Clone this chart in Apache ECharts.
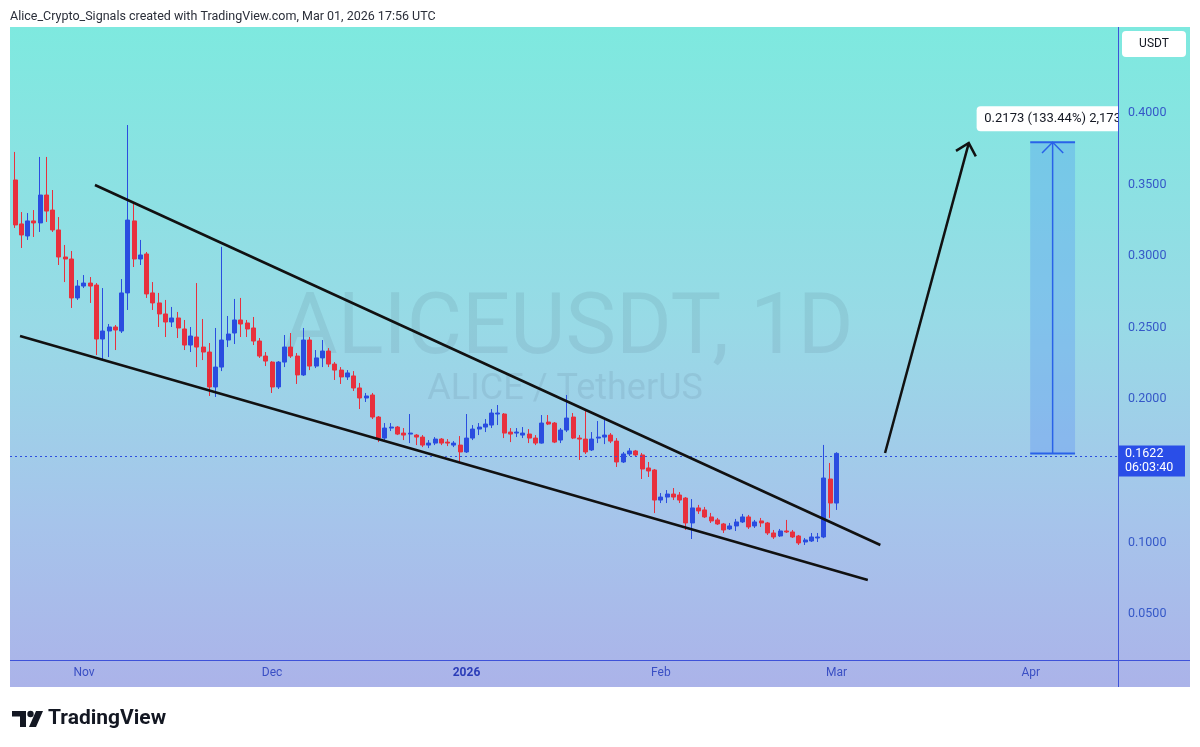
<!DOCTYPE html>
<html><head><meta charset="utf-8">
<script src="https://cdn.jsdelivr.net/npm/echarts@6/dist/echarts.min.js"></script>
<style>html,body{margin:0;padding:0;background:#fff}#c{width:1200px;height:747px}</style>
</head><body><div id="c"></div>
<script>
// day offset of the first candle relative to 2025-11-01 (daily candles, consecutive)
const firstDay = -11;
const open = [.3532,.3225,.3141,.3246,.3232,.3427,.3322,.3183,.2994,.2980,.2708,.2791,.2812,.2798,.2421,.2477,.2505,.2477,.2743,.3246,.2980,.3015,.2743,.2673,.2596,.2540,.2568,.2491,.2379,.2435,.2365,.2330,.2086,.2225,.2414,.2463,.2554,.2533,.2498,.2407,.2302,.2260,.2086,.2260,.2365,.2302,.2170,.2414,.2232,.2289,.2337,.2246,.2204,.2156,.2163,.2079,.2009,.2030,.1876,.1729,.1799,.1806,.1764,.1757,.1750,.1736,.1680,.1694,.1722,.1701,.1680,.1680,.1632,.1729,.1792,.1806,.1820,.1897,.1897,.1771,.1764,.1750,.1757,.1729,.1694,.1841,.1834,.1715,.1785,.1876,.1729,.1722,.1646,.1729,.1736,.1750,.1708,.1562,.1618,.1639,.1611,.1520,.1506,.1296,.1317,.1338,.1331,.1310,.1136,.1241,.1227,.1178,.1157,.1129,.1094,.1115,.1143,.1178,.1115,.1150,.1136,.1066,.1045,.1080,.1073,.1045,.1003,.1010,.1031,.1038,.1443,.1275];
const close = [.3218,.3148,.3246,.3232,.3427,.3315,.3183,.2994,.2980,.2708,.2791,.2812,.2791,.2421,.2477,.2505,.2484,.2743,.3252,.2980,.3008,.2736,.2673,.2596,.2540,.2568,.2498,.2379,.2442,.2365,.2330,.2086,.2225,.2414,.2456,.2554,.2526,.2491,.2407,.2302,.2267,.2086,.2260,.2365,.2302,.2170,.2414,.2232,.2289,.2337,.2246,.2204,.2156,.2184,.2079,.2009,.2023,.1876,.1729,.1799,.1806,.1757,.1750,.1764,.1736,.1680,.1694,.1722,.1694,.1694,.1694,.1632,.1729,.1792,.1806,.1827,.1904,.1904,.1764,.1757,.1771,.1764,.1729,.1694,.1834,.1827,.1701,.1785,.1869,.1729,.1722,.1632,.1722,.1736,.1750,.1708,.1562,.1618,.1639,.1611,.1513,.1499,.1296,.1317,.1338,.1317,.1296,.1136,.1241,.1220,.1178,.1150,.1129,.1087,.1115,.1143,.1178,.1108,.1143,.1136,.1066,.1038,.1080,.1073,.1038,.0996,.1017,.1038,.1038,.1450,.1275,.1622];
const low = [.3197,.3057,.3113,.3134,.3169,.3239,.3169,.2938,.2819,.2638,.2694,.2777,.2673,.2309,.2281,.2295,.2344,.2463,.2624,.2924,.2938,.2708,.2624,.2505,.2435,.2505,.2428,.2344,.2330,.2225,.2274,.2023,.2016,.2197,.2365,.2386,.2435,.2435,.2379,.2289,.2232,.2044,.2072,.2225,.2289,.2107,.2163,.2204,.2218,.2225,.2225,.2135,.2107,.2135,.2058,.1932,.1981,.1862,.1701,.1715,.1778,.1750,.1715,.1694,.1680,.1666,.1659,.1680,.1680,.1673,.1666,.1555,.1625,.1715,.1750,.1771,.1799,.1820,.1729,.1701,.1736,.1729,.1694,.1680,.1690,.1820,.1694,.1694,.1771,.1722,.1576,.1618,.1639,.1694,.1687,.1694,.1527,.1555,.1604,.1597,.1443,.1457,.1205,.1275,.1275,.1296,.1275,.1087,.1024,.1199,.1171,.1136,.1122,.1066,.1087,.1080,.1136,.1094,.1101,.1108,.1052,.1024,.1038,.1066,.1031,.0982,.0982,.1003,.1003,.1030,.1171,.1227];
const high = [.3728,.3308,.3301,.3322,.3693,.3693,.3462,.3273,.3078,.3036,.2833,.2868,.2854,.2812,.2777,.2526,.2519,.2840,.3916,.3371,.3113,.3029,.2819,.2743,.2694,.2645,.2610,.2554,.2505,.2812,.2561,.2393,.2498,.3065,.2582,.2701,.2708,.2554,.2575,.2428,.2330,.2267,.2267,.2449,.2463,.2323,.2498,.2435,.2344,.2414,.2358,.2260,.2225,.2204,.2197,.2114,.2044,.2044,.1883,.1834,.1834,.1813,.1799,.1897,.1757,.1750,.1715,.1736,.1729,.1722,.1708,.1743,.1897,.1820,.1834,.1862,.1932,.1960,.1904,.1799,.1799,.1806,.1792,.1750,.1890,.1890,.1841,.1799,.2030,.1904,.1750,.1925,.1771,.1848,.1855,.1764,.1729,.1632,.1659,.1646,.1625,.1562,.1513,.1345,.1366,.1380,.1352,.1317,.1303,.1262,.1248,.1206,.1171,.1136,.1136,.1164,.1199,.1192,.1157,.1171,.1143,.1087,.1094,.1157,.1087,.1052,.1031,.1066,.1066,.1681,.1555,.1630];

const priceTicks = [0.05, 0.10, 0.20, 0.25, 0.30, 0.35, 0.40];
const monthDays = [0, 30, 61, 92, 120, 151];
const monthLabels = ['Nov', 'Dec', '2026', 'Feb', 'Mar', 'Apr'];

const lastPrice = 0.1622;
const countdown = '06:03:40';
// drawings, in [day, price]
const upperLine = [[1.75, 0.3497], [127, 0.0982]];
const lowerLine = [[-10.2, 0.2442], [125, 0.0738]];
const arrowLine = [[127.75, 0.1625], [141.1, 0.3790]];
const measureDays = [150.9, 158.05];
const measurePrices = [0.1622, 0.3795];
const measureText = '0.2173 (133.44%) 2,173';

const candles = open.map((o, i) => [firstDay + i, o, close[i], low[i], high[i]]);

const FONT = 'Roboto, "Noto Sans", sans-serif';
const bgGrad = {type: 'linear', x: 0, y: 27, x2: 0, y2: 687, global: true,
  colorStops: [{offset: 0, color: '#7ee9df'}, {offset: 0.45, color: '#98dae6'}, {offset: 0.75, color: '#a6c4eb'}, {offset: 1, color: '#abb3e9'}]};
const UP = '#2a4de0', DOWN = '#e8303d';

const chart = echarts.init(document.getElementById('c'), null, {renderer: 'canvas'});
const option = {
  animation: false,
  backgroundColor: '#ffffff',
  grid: {left: 10, right: 82, top: 27, bottom: 87, show: false},
  xAxis: {
    type: 'value', min: -11.8, max: 164.9,
    axisLine: {show: false}, axisTick: {show: false}, splitLine: {show: false},
    axisLabel: {
      customValues: monthDays, margin: 7, color: '#3a4fc4', fontSize: 12, fontFamily: FONT,
      formatter: v => { const i = monthDays.indexOf(v); const t = monthLabels[i] || ''; return /^\d+$/.test(t) ? '{b|' + t + '}' : t; },
      rich: {b: {fontWeight: 'bold', color: '#2b3db8', fontSize: 12, fontFamily: FONT}}
    }
  },
  yAxis: {
    type: 'value', position: 'right', min: 0.01786, max: 0.46008, scale: true,
    axisLine: {show: false}, axisTick: {show: false}, splitLine: {show: false},
    axisLabel: {customValues: priceTicks, margin: 10, color: '#3558c8', fontSize: 12.5, fontFamily: FONT,
      formatter: v => v.toFixed(4)}
  },
  series: [{
    type: 'candlestick', data: candles, encode: {x: 0, y: [1, 2, 3, 4]},
    barWidth: 4.5, z: 3,
    itemStyle: {color: UP, color0: DOWN, borderColor: UP, borderColor0: DOWN, borderWidth: 1},
    markLine: {silent: true, symbol: ['none', 'none'], label: {show: false},
      lineStyle: {type: [2, 3], color: '#2c4ee0', width: 1}, data: [{yAxis: lastPrice}]}
  }],
  graphic: [
    {id: 'bg', type: 'rect', z: -100, shape: {x: 10, y: 27, width: 1180, height: 660}, style: {fill: bgGrad}},
    {id: 'wm1', type: 'text', z: -40, style: {x: 568, y: 332, text: 'ALICEUSDT, 1D', fill: 'rgba(60,85,105,0.11)', font: '85px ' + FONT, align: 'center', verticalAlign: 'middle'}},
    {id: 'wm2', type: 'text', z: -40, style: {x: 565, y: 390, text: 'ALICE / TetherUS', fill: 'rgba(60,85,105,0.11)', font: '36px ' + FONT, align: 'center', verticalAlign: 'middle'}},
    {id: 'header', type: 'text', z: 5, style: {x: 10, y: 17, text: 'Alice_Crypto_Signals created with TradingView.com, Mar 01, 2026 17:56 UTC', fill: '#2a2e39', font: '12.5px ' + FONT, verticalAlign: 'middle'}},
    {id: 'logoT', type: 'polygon', z: 5, shape: {points: [[12, 711], [26, 711], [26, 727], [20, 727], [20, 716.5], [12, 716.5]]}, style: {fill: '#131722'}},
    {id: 'logoDot', type: 'circle', z: 5, shape: {cx: 30.5, cy: 714, r: 3.2}, style: {fill: '#131722'}},
    {id: 'logoV', type: 'polygon', z: 5, shape: {points: [[36, 711], [43, 711], [36, 727], [29, 727]]}, style: {fill: '#131722'}},
    {id: 'footer', type: 'text', z: 5, style: {x: 48, y: 719, text: 'TradingView', fill: '#131722', font: 'bold 21px ' + FONT, verticalAlign: 'middle'}}
  ]
};
chart.setOption(option);

const px = (d, p) => chart.convertToPixel({gridIndex: 0}, [d, p]);
function chevron(tip, from, len, ang) {
  const dx = from[0] - tip[0], dy = from[1] - tip[1];
  const n = Math.hypot(dx, dy), ux = dx / n, uy = dy / n;
  const rot = a => [tip[0] + len * (ux * Math.cos(a) - uy * Math.sin(a)), tip[1] + len * (ux * Math.sin(a) + uy * Math.cos(a))];
  return [rot(ang), tip, rot(-ang)];
}
const u1 = px(...upperLine[0]), u2 = px(...upperLine[1]);
const l1 = px(...lowerLine[0]), l2 = px(...lowerLine[1]);
const a1 = px(...arrowLine[0]), a2 = px(...arrowLine[1]);
const mA = px(measureDays[0], measurePrices[1]), mB = px(measureDays[1], measurePrices[0]);
const mx = (mA[0] + mB[0]) / 2;
const lp = px(0, lastPrice);
const LINE = '#2962e8';
chart.setOption({graphic: [
  {id: 'up', type: 'line', z: 10, shape: {x1: u1[0], y1: u1[1], x2: u2[0], y2: u2[1]}, style: {stroke: '#111', lineWidth: 2.5}},
  {id: 'lo', type: 'line', z: 10, shape: {x1: l1[0], y1: l1[1], x2: l2[0], y2: l2[1]}, style: {stroke: '#111', lineWidth: 2.5}},
  {id: 'ar', type: 'line', z: 10, shape: {x1: a1[0], y1: a1[1], x2: a2[0], y2: a2[1]}, style: {stroke: '#111', lineWidth: 2.5}},
  {id: 'arh', type: 'polyline', z: 10, shape: {points: chevron(a2, a1, 15, Math.PI * 0.24)}, style: {stroke: '#111', lineWidth: 2.5, fill: null}},
  {id: 'mbox', type: 'rect', z: -30, shape: {x: mA[0], y: mA[1], width: mB[0] - mA[0], height: mB[1] - mA[1]}, style: {fill: 'rgba(41,98,255,0.2)'}},
  {id: 'mtop', type: 'line', z: 8, shape: {x1: mA[0], y1: mA[1], x2: mB[0], y2: mA[1]}, style: {stroke: LINE, lineWidth: 2}},
  {id: 'mbot', type: 'line', z: 8, shape: {x1: mA[0], y1: mB[1], x2: mB[0], y2: mB[1]}, style: {stroke: LINE, lineWidth: 2}},
  {id: 'mv', type: 'line', z: 8, shape: {x1: mx, y1: mB[1], x2: mx, y2: mA[1]}, style: {stroke: LINE, lineWidth: 1.5}},
  {id: 'mvh', type: 'polyline', z: 8, shape: {points: chevron([mx, mA[1]], [mx, mB[1]], 15, Math.PI * 0.25)}, style: {stroke: LINE, lineWidth: 1.5, fill: null}},
  {id: 'mlabBox', type: 'rect', z: -60, shape: {x: mx - 76, y: mA[1] - 36, width: 152, height: 25, r: 4}, style: {fill: '#ffffff'}},
  {id: 'mlab', type: 'text', z: -59, style: {x: mx, y: mA[1] - 23.5, text: measureText, fill: '#131722', font: '13px ' + FONT, align: 'center', verticalAlign: 'middle'}},
  {id: 'axCover', type: 'rect', z: -50, shape: {x: 1118.5, y: 27, width: 71.5, height: 660}, style: {fill: bgGrad}},
  {id: 'axV', type: 'line', z: 6, shape: {x1: 1118.5, y1: 27, x2: 1118.5, y2: 687}, style: {stroke: '#3e52d9', lineWidth: 1}},
  {id: 'axH', type: 'line', z: 6, shape: {x1: 10, y1: 660.5, x2: 1190, y2: 660.5}, style: {stroke: '#3e52d9', lineWidth: 1}},
  {id: 'usdtBox', type: 'rect', z: 6, shape: {x: 1122, y: 31, width: 64, height: 26, r: 4}, style: {fill: '#ffffff'}},
  {id: 'usdt', type: 'text', z: 7, style: {x: 1154, y: 44, text: 'USDT', fill: '#131722', font: '12px ' + FONT, align: 'center', verticalAlign: 'middle'}},
  {id: 'tag', type: 'rect', z: 6, shape: {x: 1119, y: lp[1] - 8, width: 66, height: 31}, style: {fill: '#2a4ee8'}},
  {id: 'tag1', type: 'text', z: 7, style: {x: 1125, y: lp[1], text: lastPrice.toFixed(4), fill: '#ffffff', font: '12.5px ' + FONT, verticalAlign: 'middle'}},
  {id: 'tag2', type: 'text', z: 7, style: {x: 1125, y: lp[1] + 14, text: countdown, fill: '#ffffff', font: '12.5px ' + FONT, verticalAlign: 'middle'}}
]});
</script></body></html>
